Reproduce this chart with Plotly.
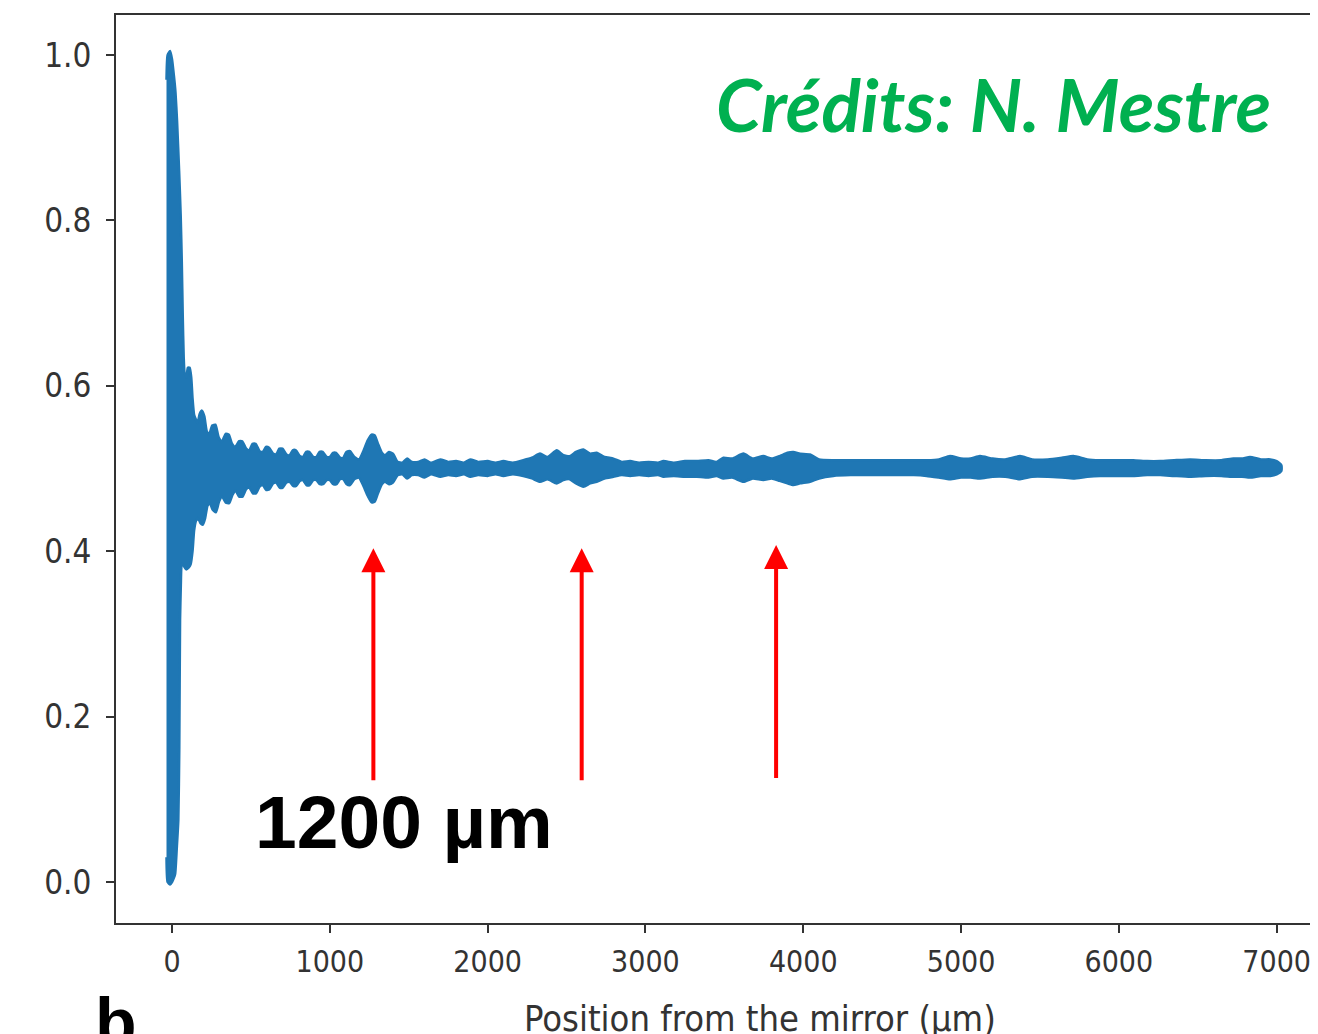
import plotly.graph_objects as go

# ---------------- data ----------------
# upper envelope of the oscillating signal (position in µm, normalised intensity)
upper_pos = [-35, -28, -12, 0, 12, 22, 32, 45, 55, 62, 68, 74, 80, 92, 100, 112, 122, 130, 140, 150,
             162, 175, 190, 205, 220, 235, 255, 275, 295, 315, 340, 360, 380, 400, 425, 445, 470, 490,
             510, 530, 555, 575, 595, 615, 640, 660, 680, 700, 725, 745, 765, 785, 810, 830, 850, 870,
             895, 915, 935, 955, 980, 1000, 1020, 1040, 1065, 1085, 1105, 1128, 1155, 1185, 1210, 1240,
             1265, 1285, 1305, 1330, 1350, 1375, 1400, 1430, 1460, 1490, 1520, 1560, 1600, 1640, 1700,
             1750, 1800, 1850, 1890, 1940, 2000, 2050, 2100, 2160, 2226, 2280, 2332, 2380, 2438, 2480,
             2520, 2560, 2607, 2650, 2691, 2740, 2797, 2850, 2903, 2960, 3020, 3080, 3114, 3180, 3250,
             3325, 3400, 3450, 3494, 3550, 3621, 3680, 3747, 3800, 3850, 3900, 3937, 3980, 4043, 4100,
             4190, 4300, 4400, 4500, 4613, 4700, 4782, 4860, 4930, 5000, 5060, 5120, 5200, 5280, 5374,
             5450, 5550, 5640, 5712, 5800, 5881, 5980, 6092, 6180, 6262, 6350, 6451, 6550, 6650, 6726,
             6780, 6831, 6900, 6960, 7000, 7030]
upper_val = [0.97, 1.0, 1.005, 0.995, 0.975, 0.955, 0.92, 0.86, 0.806, 0.75, 0.685, 0.635, 0.615, 0.61,
             0.622, 0.622, 0.61, 0.585, 0.565, 0.56, 0.555, 0.566, 0.570, 0.563, 0.545, 0.541, 0.552,
             0.553, 0.538, 0.532, 0.542, 0.541, 0.530, 0.526, 0.533, 0.533, 0.524, 0.522, 0.530, 0.530,
             0.521, 0.520, 0.526, 0.525, 0.518, 0.517, 0.524, 0.524, 0.517, 0.516, 0.522, 0.522, 0.515,
             0.514, 0.520, 0.520, 0.514, 0.514, 0.520, 0.520, 0.514, 0.514, 0.519, 0.519, 0.513, 0.513,
             0.520, 0.521, 0.514, 0.511, 0.520, 0.534, 0.541, 0.540, 0.530, 0.519, 0.516, 0.520, 0.518,
             0.508, 0.507, 0.512, 0.508, 0.508, 0.511, 0.507, 0.511, 0.508, 0.509, 0.507, 0.511, 0.508,
             0.509, 0.507, 0.509, 0.507, 0.510, 0.513, 0.518, 0.514, 0.522, 0.516, 0.515, 0.520, 0.523,
             0.518, 0.519, 0.514, 0.512, 0.508, 0.509, 0.507, 0.508, 0.507, 0.509, 0.507, 0.509, 0.509,
             0.510, 0.508, 0.513, 0.512, 0.518, 0.512, 0.515, 0.512, 0.515, 0.519, 0.520, 0.518, 0.517,
             0.511, 0.510, 0.510, 0.510, 0.510, 0.510, 0.510, 0.510, 0.511, 0.515, 0.512, 0.512, 0.515,
             0.512, 0.511, 0.515, 0.511, 0.511, 0.513, 0.515, 0.511, 0.510, 0.510, 0.510, 0.509, 0.509,
             0.510, 0.511, 0.510, 0.510, 0.512, 0.512, 0.514, 0.511, 0.511, 0.509, 0.504]

# lower envelope of the oscillating signal
lower_pos = [-35, -28, -12, 0, 12, 20, 30, 40, 46, 51, 56, 62, 75, 90, 105, 118, 130, 140, 152, 165,
             180, 195, 210, 225, 240, 258, 278, 298, 318, 340, 362, 383, 403, 425, 447, 470, 490, 512,
             532, 555, 575, 597, 617, 640, 660, 682, 702, 725, 745, 767, 787, 810, 830, 852, 872, 895,
             915, 937, 957, 980, 1000, 1022, 1042, 1065, 1085, 1107, 1128, 1155, 1185, 1210, 1240, 1265,
             1285, 1305, 1330, 1350, 1375, 1400, 1430, 1460, 1490, 1520, 1560, 1600, 1640, 1700, 1750,
             1800, 1850, 1890, 1940, 2000, 2050, 2100, 2160, 2226, 2280, 2332, 2380, 2438, 2480, 2520,
             2560, 2607, 2650, 2691, 2740, 2797, 2850, 2903, 2960, 3020, 3080, 3114, 3180, 3250, 3325,
             3400, 3450, 3494, 3550, 3621, 3680, 3747, 3800, 3850, 3900, 3937, 3980, 4043, 4100, 4190,
             4300, 4400, 4500, 4613, 4700, 4782, 4860, 4930, 5000, 5060, 5120, 5200, 5280, 5374, 5450,
             5550, 5640, 5712, 5800, 5881, 5980, 6092, 6180, 6262, 6350, 6451, 6550, 6650, 6726, 6780,
             6831, 6900, 6960, 7000, 7030]
lower_val = [0.03, 0.0, -0.003, 0.0, 0.005, 0.01, 0.04, 0.075, 0.16, 0.317, 0.36, 0.385, 0.382, 0.378,
             0.380, 0.384, 0.40, 0.425, 0.437, 0.440, 0.434, 0.432, 0.440, 0.455, 0.458, 0.450, 0.447,
             0.460, 0.466, 0.459, 0.458, 0.468, 0.473, 0.466, 0.466, 0.475, 0.477, 0.470, 0.470, 0.478,
             0.480, 0.474, 0.475, 0.482, 0.483, 0.477, 0.477, 0.483, 0.484, 0.479, 0.479, 0.485, 0.486,
             0.480, 0.480, 0.486, 0.486, 0.481, 0.481, 0.486, 0.486, 0.481, 0.481, 0.487, 0.487, 0.481,
             0.480, 0.487, 0.489, 0.480, 0.467, 0.459, 0.460, 0.470, 0.481, 0.484, 0.481, 0.483, 0.492,
             0.493, 0.488, 0.492, 0.492, 0.489, 0.493, 0.490, 0.492, 0.491, 0.493, 0.490, 0.492, 0.491,
             0.493, 0.491, 0.493, 0.491, 0.488, 0.484, 0.487, 0.482, 0.486, 0.487, 0.482, 0.478, 0.482,
             0.484, 0.488, 0.490, 0.492, 0.491, 0.492, 0.491, 0.492, 0.490, 0.491, 0.490, 0.490, 0.489,
             0.491, 0.488, 0.489, 0.484, 0.488, 0.486, 0.488, 0.485, 0.482, 0.480, 0.482, 0.484, 0.488,
             0.491, 0.492, 0.492, 0.492, 0.492, 0.492, 0.491, 0.489, 0.487, 0.489, 0.489, 0.488, 0.490,
             0.490, 0.487, 0.490, 0.490, 0.489, 0.488, 0.490, 0.491, 0.491, 0.491, 0.492, 0.492, 0.491,
             0.490, 0.491, 0.491, 0.490, 0.490, 0.489, 0.491, 0.491, 0.493, 0.497]

# arrows marking the 1200 µm revivals (x position, tip value, tail value)
arrow_pos = [1276, 2596, 3828]
arrow_tip = [0.4035, 0.4035, 0.4075]
arrow_tail = [0.1213, 0.1213, 0.124]

x_ticks = [0, 1000, 2000, 3000, 4000, 5000, 6000, 7000]
y_ticks = [0.0, 0.2, 0.4, 0.6, 0.8, 1.0]
y_ticktext = ["0.0", "0.2", "0.4", "0.6", "0.8", "1.0"]

# ---------------- figure ----------------
# the page body adds an 8 px offset; the figure is sized so it ends at the window edge
OFF = 8
W, H = 1318 - OFF, 1034 - OFF
M_L, M_T, M_B, M_R = 116 - OFF, 15 - OFF, 1034 - 923, 0
PW, PH = W - M_L - M_R, H - M_T - M_B


def pxx(p):
    # reference-picture pixel -> paper coordinate
    return (p - OFF - M_L) / PW


def pxy(p):
    return (H - M_B - (p - OFF)) / PH


BLUE = "#1f77b4"
AXC = "#333333"
FAM = "DejaVu Sans Condensed, DejaVu Sans, sans-serif"
XTICKFONT = dict(family=FAM, size=30, color="#333333")
YTICKFONT = dict(family=FAM, size=33, color="#333333")

poly_x = upper_pos + lower_pos[::-1]
poly_y = upper_val + lower_val[::-1]

fig = go.Figure()
fig.add_trace(go.Scatter(x=poly_x, y=poly_y, mode="lines", fill="toself",
                         fillcolor=BLUE, line=dict(color=BLUE, width=2.5, shape="spline", smoothing=0.5),
                         hoverinfo="skip", showlegend=False))

annotations = []
for xa, yt, yb in zip(arrow_pos, arrow_tip, arrow_tail):
    annotations.append(dict(x=xa, y=yt, ax=xa, ay=yb, xref="x", yref="y", axref="x", ayref="y",
                            text="", showarrow=True, arrowhead=2, arrowsize=1.2, arrowwidth=4,
                            arrowcolor="#ff0000", standoff=0))

annotations += [
    dict(text="<b><i>Crédits: N. Mestre</i></b>", x=pxx(993), y=pxy(104), xref="paper", yref="paper",
         showarrow=False, xanchor="center", yanchor="middle",
         font=dict(family="Lato, Open Sans, sans-serif", size=73, color="#00b050")),
    dict(text="<b>1200 µm</b>", x=pxx(404), y=pxy(822), xref="paper", yref="paper",
         showarrow=False, xanchor="center", yanchor="middle",
         font=dict(family="Liberation Sans, Arial, sans-serif", size=75, color="#000000")),
    dict(text="Position from the mirror (µm)", x=pxx(760), y=pxy(1019), xref="paper", yref="paper",
         showarrow=False, xanchor="center", yanchor="middle",
         font=dict(family=FAM, size=36, color="#333333")),
    dict(text="<b>b</b>", x=pxx(116), y=pxy(1022), xref="paper", yref="paper",
         showarrow=False, xanchor="center", yanchor="middle",
         font=dict(family="Liberation Sans, Arial, sans-serif", size=68, color="#000000")),
]

fig.update_layout(
    width=W, height=H,
    margin=dict(l=M_L, r=M_R, t=M_T, b=M_B, pad=0),
    paper_bgcolor="white", plot_bgcolor="white",
    showlegend=False,
    annotations=annotations,
    xaxis=dict(range=[-355, 7262], tickvals=x_ticks, ticks="outside", ticklen=8, tickwidth=2,
               tickcolor=AXC, showline=True, linecolor=AXC, linewidth=2, mirror=True,
               showgrid=False, zeroline=False, tickfont=XTICKFONT, ticklabelstandoff=3),
    yaxis=dict(range=[-0.0496, 1.0484], tickvals=y_ticks, ticktext=y_ticktext, ticks="outside",
               ticklen=8, tickwidth=2, tickcolor=AXC, showline=True, linecolor=AXC, linewidth=2,
               mirror=False, showgrid=False, zeroline=False, tickfont=YTICKFONT,
               ticklabelstandoff=8),
)

fig.write_html("out.html")
